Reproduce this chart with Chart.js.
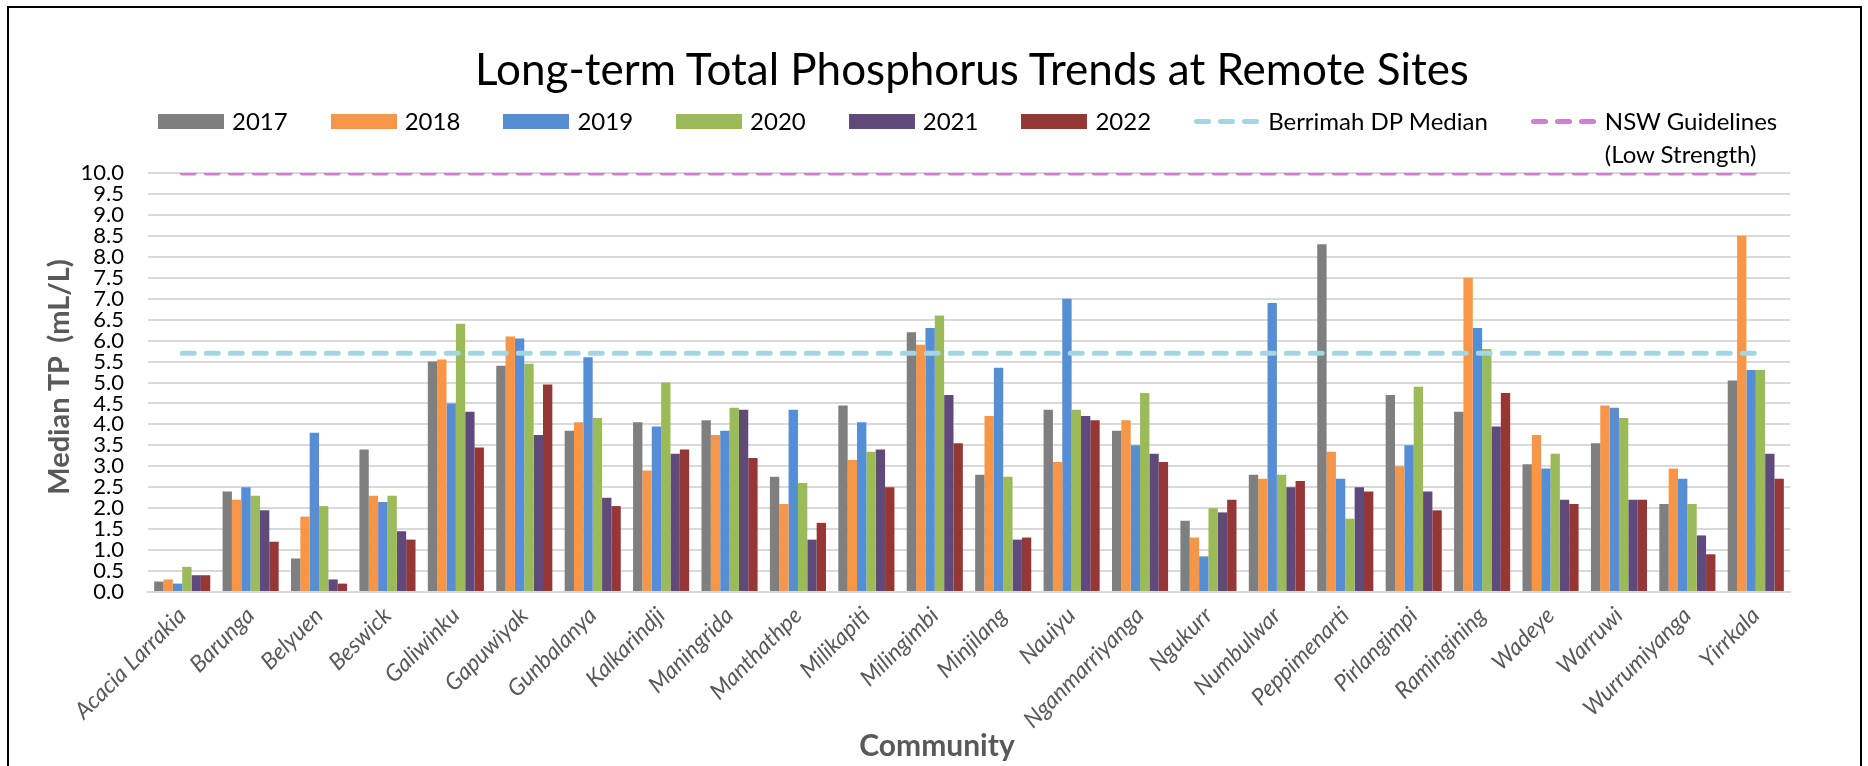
<!DOCTYPE html>
<html>
<head>
<meta charset="utf-8">
<script src="https://cdn.jsdelivr.net/npm/chart.js@4.4.0/dist/chart.umd.min.js"></script>
<style>
html, body { margin: 0; padding: 0; background: #fff; }
#wrap { position: relative; width: 1868px; height: 766px; overflow: hidden; }
#frame { position: absolute; left: 7px; top: 6px; width: 1855px; height: 800px; border: 2px solid #000; box-sizing: border-box; pointer-events: none; }
#legend { position: absolute; top: 104px; left: 158px; display: flex; font-family: Lato, sans-serif; font-size: 24px; line-height: 33px; color: #000; }
.item { display: flex; align-items: flex-start; margin-right: 43px; }
.swatch { width: 66px; height: 15px; margin-top: 10px; margin-right: 8px; flex: none; }
.lbl { position: absolute; transform: translate(-50%, -50%); font-family: Lato, sans-serif; white-space: nowrap; }
#title { left: 972px; top: 68px; font-size: 44px; color: #000; }
#xTitle { left: 937px; top: 744px; font-weight: bold; font-size: 30px; color: #595959; }
#yTitle { left: 57px; top: 377px; font-weight: bold; font-size: 29px; color: #595959; transform: translate(-50%, -50%) rotate(-90deg); }
</style>
</head>
<body>
<div id="wrap">
  <canvas id="tpChart" width="1868" height="766"></canvas>
  <div id="title" class="lbl">Long-term Total Phosphorus Trends at Remote Sites</div>
  <div id="legend"></div>
  <div id="xTitle" class="lbl">Community</div>
  <div id="yTitle" class="lbl">Median TP&nbsp;&nbsp;(mL/L)</div>
  <div id="frame"></div>
</div>
<script>
// Communities and yearly median TP values
const communities = ['Acacia Larrakia', 'Barunga', 'Belyuen', 'Beswick', 'Galiwinku', 'Gapuwiyak', 'Gunbalanya', 'Kalkarindji',
    'Maningrida', 'Manthathpe', 'Milikapiti', 'Milingimbi', 'Minjilang', 'Nauiyu', 'Nganmarriyanga', 'Ngukurr',
    'Numbulwar', 'Peppimenarti', 'Pirlangimpi', 'Ramingining', 'Wadeye', 'Warruwi', 'Wurrumiyanga', 'Yirrkala'];

const tp2017 = [0.25, 2.4, 0.8, 3.4, 5.5, 5.4, 3.85, 4.05, 4.1, 2.75, 4.45, 6.2, 2.8, 4.35, 3.85, 1.7, 2.8, 8.3, 4.7, 4.3, 3.05, 3.55, 2.1, 5.05];
const tp2018 = [0.3, 2.2, 1.8, 2.3, 5.55, 6.1, 4.05, 2.9, 3.75, 2.1, 3.15, 5.9, 4.2, 3.1, 4.1, 1.3, 2.7, 3.35, 3.0, 7.5, 3.75, 4.45, 2.95, 8.5];
const tp2019 = [0.2, 2.5, 3.8, 2.15, 4.5, 6.05, 5.6, 3.95, 3.85, 4.35, 4.05, 6.3, 5.35, 7.0, 3.5, 0.85, 6.9, 2.7, 3.5, 6.3, 2.95, 4.4, 2.7, 5.3];
const tp2020 = [0.6, 2.3, 2.05, 2.3, 6.4, 5.45, 4.15, 5.0, 4.4, 2.6, 3.35, 6.6, 2.75, 4.35, 4.75, 2.0, 2.8, 1.75, 4.9, 5.8, 3.3, 4.15, 2.1, 5.3];
const tp2021 = [0.4, 1.95, 0.3, 1.45, 4.3, 3.75, 2.25, 3.3, 4.35, 1.25, 3.4, 4.7, 1.25, 4.2, 3.3, 1.9, 2.5, 2.5, 2.4, 3.95, 2.2, 2.2, 1.35, 3.3];
const tp2022 = [0.4, 1.2, 0.2, 1.25, 3.45, 4.95, 2.05, 3.4, 3.2, 1.65, 2.5, 3.55, 1.3, 4.1, 3.1, 2.2, 2.65, 2.4, 1.95, 4.75, 2.1, 2.2, 0.9, 2.7];

// Reference lines
const berrimahMedian = [5.7, 5.7, 5.7, 5.7, 5.7, 5.7, 5.7, 5.7, 5.7, 5.7, 5.7, 5.7, 5.7, 5.7, 5.7, 5.7, 5.7, 5.7, 5.7, 5.7, 5.7, 5.7, 5.7, 5.7];
const nswGuideline = [10, 10, 10, 10, 10, 10, 10, 10, 10, 10, 10, 10, 10, 10, 10, 10, 10, 10, 10, 10, 10, 10, 10, 10];

const yearLabels = ['2017', '2018', '2019', '2020', '2021', '2022'];
const yearData = [tp2017, tp2018, tp2019, tp2020, tp2021, tp2022];
const yearColors = ['#7f7f7f', '#f79646', '#558ed5', '#9bbb59', '#604a7b', '#953735'];

const barSets = yearLabels.map((y, i) => ({
    type: 'bar',
    label: y,
    data: yearData[i],
    backgroundColor: yearColors[i],
    order: 2
}));

const lineSets = [
    { label: 'Berrimah DP Median', data: berrimahMedian, color: '#a5d5e1' },
    { label: 'NSW Guidelines|(Low Strength)', data: nswGuideline, color: '#cc80cf' }
].map(l => ({
    type: 'line',
    label: l.label,
    data: l.data,
    borderColor: l.color,
    backgroundColor: l.color,
    borderWidth: 5,
    borderDash: [12, 12],
    borderCapStyle: 'round',
    pointRadius: 0,
    fill: false,
    order: 1
}));

const chart = new Chart(document.getElementById('tpChart').getContext('2d'), {
    data: {
        labels: communities,
        datasets: [...barSets, ...lineSets]
    },
    options: {
        responsive: false,
        animation: false,
        layout: { padding: { left: 36, right: 78, top: 173, bottom: 0 } },
        datasets: { bar: { categoryPercentage: 0.82, barPercentage: 1 } },
        plugins: {
            legend: { display: false },
            tooltip: { enabled: false },
            title: { display: false }
        },
        scales: {
            x: {
                grid: { display: false },
                border: { color: '#d9d9d9', width: 2 },
                ticks: {
                    minRotation: 45, maxRotation: 45, autoSkip: false, padding: 2,
                    color: '#595959',
                    font: { family: 'Lato', size: 23, style: 'italic' }
                },
                afterFit: s => { s.height = 174; }
            },
            y: {
                min: 0, max: 10,
                grid: { color: '#d9d9d9', lineWidth: 2, drawTicks: false },
                border: { display: false },
                ticks: {
                    stepSize: 0.5, autoSkip: false, padding: 24, color: '#000',
                    font: { family: 'Lato', size: 22 },
                    callback: v => v.toFixed(1)
                },
                afterFit: s => { s.width = 112; }
            }
        }
    }
});

// HTML legend built from the chart's datasets
const legend = document.getElementById('legend');
chart.data.datasets.forEach(ds => {
    const item = document.createElement('div');
    item.className = 'item';
    let sw;
    if (ds.type === 'bar') {
        sw = document.createElement('div');
        sw.className = 'swatch';
        sw.style.background = ds.backgroundColor;
    } else {
        sw = document.createElementNS('http://www.w3.org/2000/svg', 'svg');
        sw.setAttribute('class', 'swatch');
        sw.setAttribute('viewBox', '0 0 66 15');
        sw.innerHTML = '<line x1="2.5" y1="7.5" x2="63.5" y2="7.5" stroke="' + ds.borderColor +
            '" stroke-width="5" stroke-dasharray="12 12" stroke-linecap="round"/>';
    }
    const txt = document.createElement('div');
    txt.innerHTML = ds.label.split('|').join('<br>');
    item.appendChild(sw);
    item.appendChild(txt);
    legend.appendChild(item);
});
</script>
</body>
</html>
